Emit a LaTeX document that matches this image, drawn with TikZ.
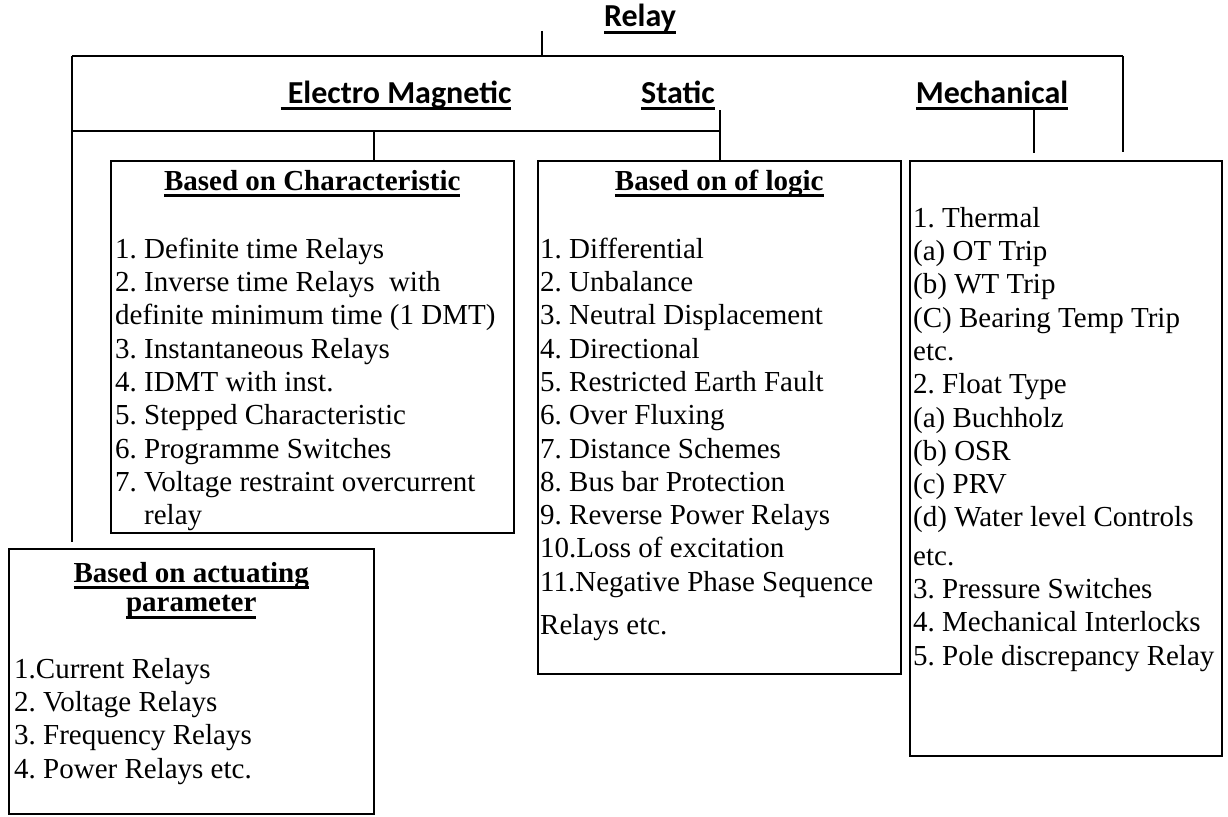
\documentclass[tikz,border=0pt]{standalone}
\usepackage{fontspec}
\setmainfont{Liberation Serif}
\newfontfamily\labelfont{Carlito}
\usetikzlibrary{positioning,calc}
\frenchspacing

\newcommand{\heavyul}[1]{\sbox0{#1}\rlap{\rule[-7pt]{\wd0}{2.8pt}}\usebox0}

\begin{document}
\begin{tikzpicture}[x=1pt, y=-1pt,
    box/.style={draw, line width=1.5pt, anchor=north west, inner sep=0pt},
    cat_label/.style={anchor=base, inner sep=0pt, font=\fontsize{32}{36}\selectfont\labelfont\bfseries},
    head/.style={anchor=base, inner sep=0pt, font=\fontsize{29}{33.3}\selectfont\bfseries},
    list/.style={anchor=north west, inner sep=0pt, align=left, font=\fontsize{29}{33.3}\selectfont},
    wire/.style={line width=1.4pt}
]
    \useasboundingbox (0,0) rectangle (1228,816);

    % Categories
    \node[cat_label] (relay) at (640,27) {\heavyul{Relay}};
    \node[cat_label] (electro) at (396,103) {\heavyul{\ Electro Magnetic}};
    \node[cat_label] (static) at (678,103) {\heavyul{Static}};
    \node[cat_label] (mech) at (992,103) {\heavyul{Mechanical}};

    % Boxes
    \node[box, minimum width=403, minimum height=372] (charbox) at (110,160) {};
    \node[box, minimum width=363, minimum height=513] (logicbox) at (537,160) {};
    \node[box, minimum width=312, minimum height=595] (mechbox) at (909,160) {};
    \node[box, minimum width=365, minimum height=265] (actbox) at (8,548) {};

    % Based on Characteristic
    \node[head] (charhead) at ($(charbox.north)+(0,30)$) {\heavyul{Based on Characteristic}};
    \node[list] (charlist) at ($(charbox.north west)+(5,74.7)$) {\strut 1. Definite time Relays\\
        2. Inverse time Relays\ \ with\\
        definite minimum time (1 DMT)\\
        3. Instantaneous Relays\\
        4. IDMT with inst.\\
        5. Stepped Characteristic\\
        6. Programme Switches\\
        7. Voltage restraint overcurrent\\
        \phantom{7. }relay};

    % Based on of logic
    \node[head] (logichead) at ($(logicbox.north)+(0,30)$) {\heavyul{Based on of logic}};
    \node[list] (logiclist) at ($(logicbox.north west)+(3,74.7)$) {\strut 1. Differential\\
        2. Unbalance\\
        3. Neutral Displacement\\
        4. Directional\\
        5. Restricted Earth Fault\\
        6. Over Fluxing\\
        7. Distance Schemes\\
        8. Bus bar Protection\\
        9. Reverse Power Relays\\
        10.Loss of excitation\\
        11.Negative Phase Sequence\\[10pt]
        Relays etc.};

    % Mechanical list
    \node[list] (mechlist) at ($(mechbox.north west)+(4,43.7)$) {\strut 1. Thermal\\
        (a) OT Trip\\
        (b) WT Trip\\
        (C) Bearing Temp Trip\\
        etc.\\
        2. Float Type\\
        (a) Buchholz\\
        (b) OSR\\
        (c) PRV\\
        (d) Water level Controls\\[5pt]
        etc.\\
        3. Pressure Switches\\
        4. Mechanical Interlocks\\
        5. Pole discrepancy Relay};

    % Based on actuating parameter
    \node[head, anchor=north, align=center] (acthead) at ($(actbox.north)+(0,10.7)$) {\strut\heavyul{Based on actuating}\\[-4pt]
        \heavyul{parameter}};
    \node[list] (actlist) at ($(actbox.north west)+(6,106.7)$) {\strut 1.Current Relays\\
        2. Voltage Relays\\
        3. Frequency Relays\\
        4. Power Relays etc.};

    % Tree lines
    \coordinate (stem) at (542,31);
    \coordinate (barL) at (72,56);
    \coordinate (barR) at (1123,56);
    \coordinate (bar2L) at (72,131);
    \coordinate (bar2R) at (720,131);
    \coordinate (emdrop) at (374,131);
    \coordinate (mechdrop) at (1034,107);

    \draw[wire] (stem) -- (stem |- barL);
    \draw[wire] (barL) -- (barR);
    \draw[wire] (barR) -- ($(barR |- mechbox.north)+(0,-8)$);
    \draw[wire] (barL) -- ($(barL |- actbox.north)+(0,-6)$);
    \draw[wire] (bar2L) -- (bar2R);
    \draw[wire] (bar2R |- static.south) -- (bar2R |- logicbox.north);
    \draw[wire] (emdrop) -- (emdrop |- charbox.north);
    \draw[wire] (mechdrop) -- ($(mechdrop |- mechbox.north)+(0,-7)$);

\end{tikzpicture}
\end{document}
